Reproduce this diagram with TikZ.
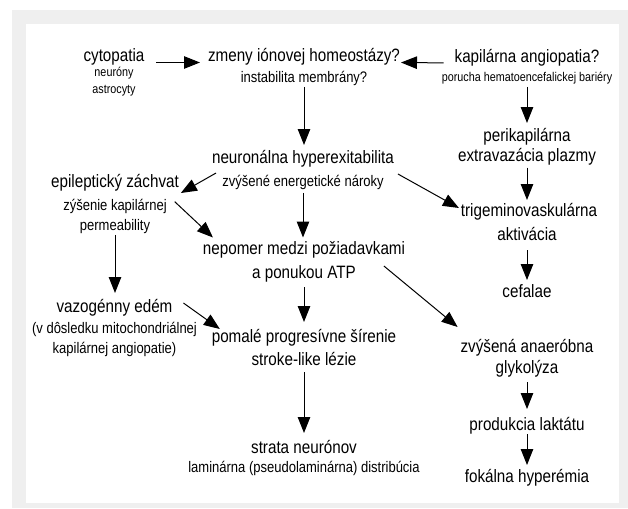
\documentclass[tikz,border=0pt]{standalone}
\usepackage{fontspec}
\setmainfont[FakeStretch=0.85]{Liberation Sans}
\usetikzlibrary{arrows.meta,calc}
\newcommand\fmain{\fontsize{17.9pt}{20pt}\selectfont}
\newcommand\fsub{\fontsize{15.3pt}{17pt}\selectfont}
\newcommand\ftiny{\fontsize{12.7pt}{14pt}\selectfont}
\definecolor{panel}{HTML}{EFEFEF}
\begin{document}
\begin{tikzpicture}[x=1pt,y=-1pt,
  txt/.style={inner sep=0pt,outer sep=0pt,anchor=base},
  mainl/.style={txt,font=\fmain,text height=11pt,text depth=3pt},
  subl/.style={txt,font=\fsub,text height=9.5pt,text depth=2.8pt},
  tinyl/.style={txt,font=\ftiny,text height=8pt,text depth=2.3pt},
  arr/.style={line width=1pt,-{Triangle[length=16pt,width=12.5pt]}}]
\useasboundingbox (0,0) rectangle (628,508);
\fill[white] (0,0) rectangle (628,508);
\fill[panel] (12,10) rectangle (628,508);
\fill[white] (26,24) rectangle (619,503);
% nodes
\node[mainl] (cyto) at (114,62) {cytopatia};
\node[tinyl] (neurony) at (114,77) {neuróny};
\node[tinyl] (astro) at (114,93) {astrocyty};
\node[mainl] (zmeny) at (304,62) {zmeny iónovej homeostázy?};
\node[subl] (instab) at (304,83) {instabilita membrány?};
\node[mainl] (kap) at (527,62.5) {kapilárna angiopatia?};
\node[tinyl] (porucha) at (527,81.5) {porucha hematoencefalickej bariéry};
\node[mainl] (perik) at (527,141) {perikapilárna};
\node[mainl] (extrav) at (527,161.5) {extravazácia plazmy};
\node[mainl] (trig) at (529,216) {trigeminovaskulárna};
\node[mainl] (aktiv) at (527,240) {aktivácia};
\node[mainl] (cef) at (527,297) {cefalae};
\node[mainl] (neur) at (303,163) {neuronálna hyperexitabilita};
\node[subl] (zvys) at (303,186) {zvýšené energetické nároky};
\node[mainl] (epil) at (115,187) {epileptický záchvat};
\node[subl] (zysen) at (115,210) {zýšenie kapilárnej};
\node[subl] (perm) at (115,230) {permeability};
\node[mainl] (nepomer) at (304,254.5) {nepomer medzi požiadavkami};
\node[mainl] (atp) at (304,278) {a ponukou ATP};
\node[mainl] (vazo) at (114.5,312) {vazogénny edém};
\node[subl] (vdosl) at (114.5,333) {(v dôsledku mitochondriálnej};
\node[subl] (kapang) at (114.5,353) {kapilárnej angiopatie)};
\node[mainl] (pomale) at (304,342) {pomalé progresívne šírenie};
\node[mainl] (stroke) at (304,365) {stroke-like lézie};
\node[mainl] (strata) at (304,453) {strata neurónov};
\node[subl] (lamin) at (304,472) {laminárna (pseudolaminárna) distribúcia};
\node[mainl] (anaer) at (527,352) {zvýšená anaeróbna};
\node[mainl] (glyk) at (527,373) {glykolýza};
\node[mainl] (prod) at (527,430) {produkcia laktátu};
\node[mainl] (fok) at (527,482) {fokálna hyperémia};
% connectors
\draw[arr,shorten <=12pt,shorten >=8pt] ([yshift=-4.5pt]cyto.east) -- ([yshift=-4.5pt]zmeny.west);
\draw[arr,shorten <=11pt,shorten >=1pt] ([yshift=-4.5pt]kap.west) -- ([yshift=-4.5pt]zmeny.east);
\draw[arr,shorten <=1pt,shorten >=7pt] (instab.south) -- (instab.south |- neur.north);
\draw[arr,shorten <=3pt,shorten >=7pt] (porucha.south) -- (porucha.south |- perik.north);
\draw[arr,shorten <=3pt,shorten >=5pt] (extrav.south) -- (extrav.south |- trig.north);
\draw[arr,shorten <=7pt,shorten >=6pt] (aktiv.south) -- (aktiv.south |- cef.north);
\draw[arr] ($(neur.south west)+(4,7)$) -- ($(epil.east)+(2,10)$);
\draw[arr] ($(neur.south east)+(4,8)$) -- ($(trig.west)+(-2,-4)$);
\draw[arr,shorten <=4pt,shorten >=6pt] (zvys.south) -- (zvys.south |- nepomer.north);
\draw[arr] ($(zysen.east)+(8,-5)$) -- ($(nepomer.west)+(10,-13)$);
\draw[arr,shorten <=2pt,shorten >=8pt] (perm.south) -- (perm.south |- vazo.north);
\draw[arr,shorten <=6pt,shorten >=9pt] (atp.south) -- (atp.south |- pomale.north);
\draw[arr] ($(atp.north east)+(28,-1)$) -- ($(anaer.north west)+(-3,-14)$);
\draw[arr] ($(vazo.east)+(11,-5)$) -- ($(pomale.west)+(8,-9)$);
\draw[arr,shorten <=4pt,shorten >=9pt] (stroke.south) -- (stroke.south |- strata.north);
\draw[arr,shorten <=6pt,shorten >=10pt] (glyk.south) -- (glyk.south |- prod.north);
\draw[arr,shorten <=1pt,shorten >=6pt] (prod.south) -- (prod.south |- fok.north);
\end{tikzpicture}
\end{document}
